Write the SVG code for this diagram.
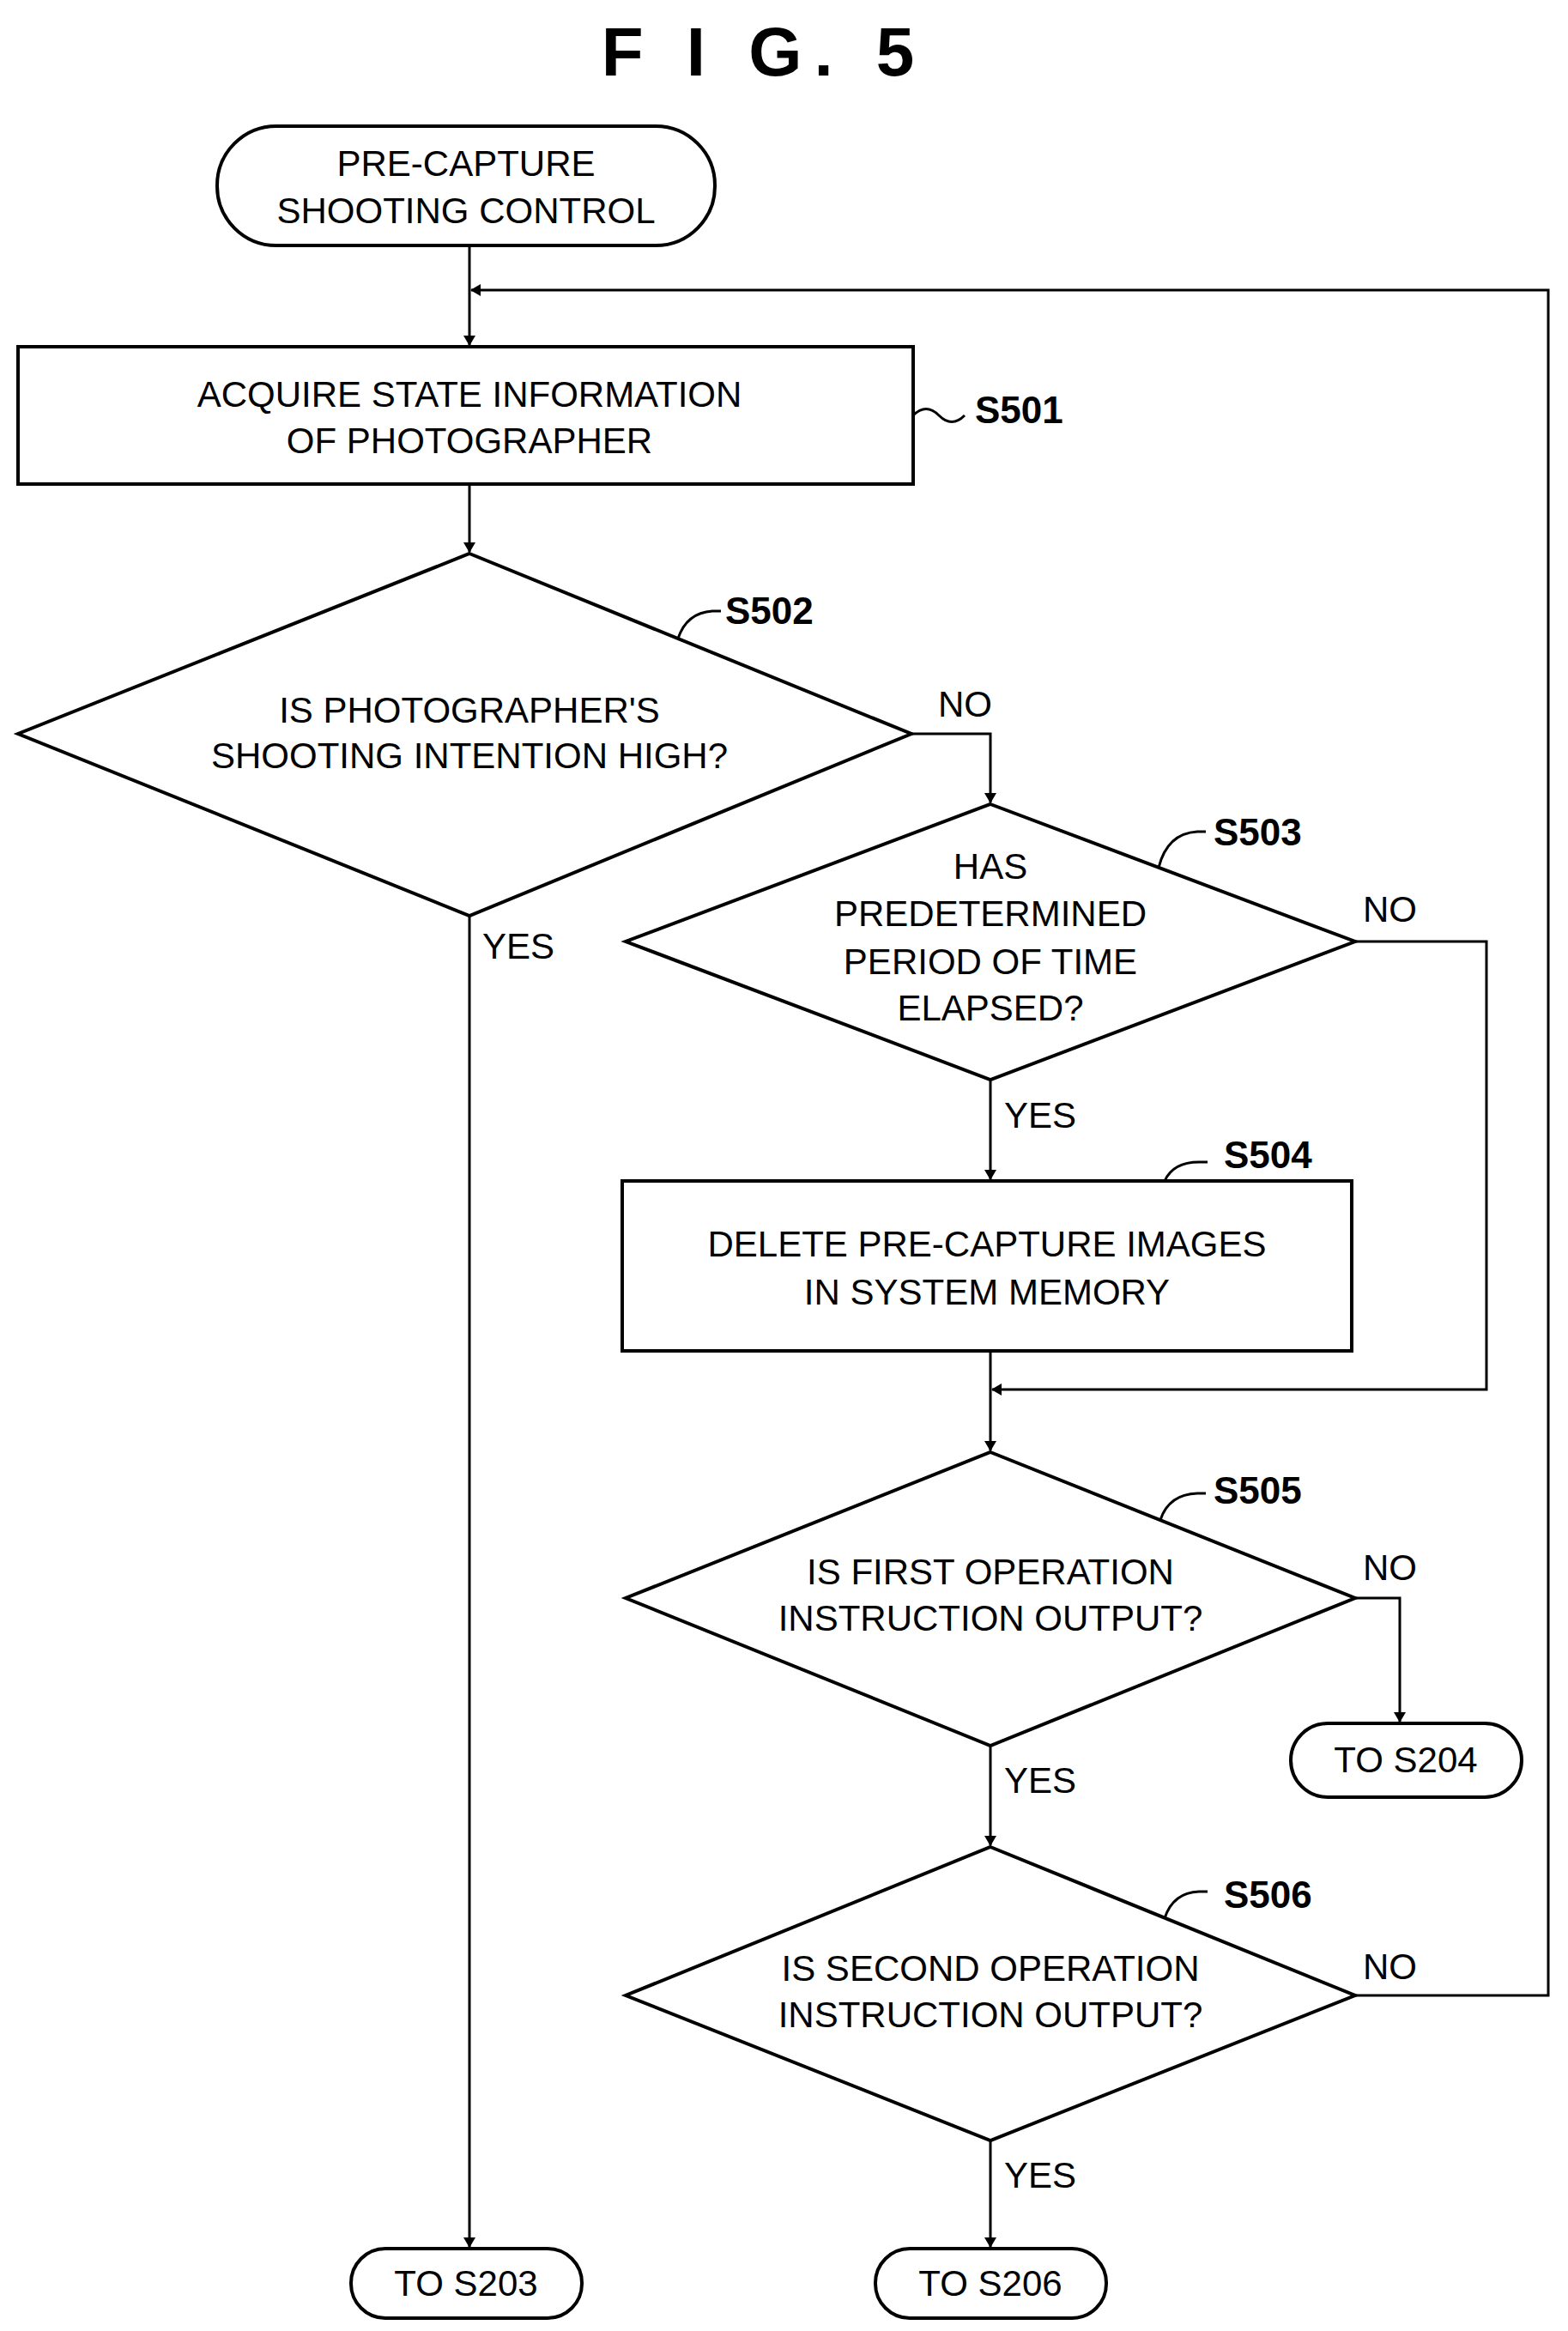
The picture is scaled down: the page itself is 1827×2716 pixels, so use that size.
<svg xmlns="http://www.w3.org/2000/svg" width="1827" height="2716" viewBox="0 0 1827 2716">
<style>
.s{fill:#fff;stroke:#000;stroke-width:4}
.c{fill:none;stroke:#000;stroke-width:3}
.t{font-family:"Liberation Sans",Arial,sans-serif;font-size:42px;text-anchor:middle;fill:#000}
.l{font-family:"Liberation Sans",Arial,sans-serif;font-size:42px;fill:#000}
.b{font-family:"Liberation Sans",Arial,sans-serif;font-size:44px;font-weight:bold;fill:#000}
</style>
<defs><marker id="a" markerWidth="12" markerHeight="14" refX="11" refY="7" orient="auto" markerUnits="userSpaceOnUse"><path d="M0,0 L12,7 L0,14 Z" fill="#000"/></marker></defs>
<rect width="1827" height="2716" fill="#fff"/>
<text x="890" y="88" class="b" style="font-size:80px;text-anchor:middle;letter-spacing:14px">F I G.  5</text>
<g id="connectors">
<path class="c" d="M547,286 V402" marker-end="url(#a)"/>
<path class="c" d="M1579,2325 H1804 V338 H549" marker-end="url(#a)"/>
<path class="c" d="M547,564 V643" marker-end="url(#a)"/>
<path class="c" d="M1062,855 H1154 V935" marker-end="url(#a)"/>
<path class="c" d="M547,1067 V2618" marker-end="url(#a)"/>
<path class="c" d="M1154,1258 V1374" marker-end="url(#a)"/>
<path class="c" d="M1579,1097 H1732 V1619 H1156" marker-end="url(#a)"/>
<path class="c" d="M1154,1574 V1690" marker-end="url(#a)"/>
<path class="c" d="M1579,1862 H1631 V2006" marker-end="url(#a)"/>
<path class="c" d="M1154,2034 V2150" marker-end="url(#a)"/>
<path class="c" d="M1154,2494 V2618" marker-end="url(#a)"/>
<path class="c" d="M1064,484 q15,-15 30,0 t30,0"/>
<path class="c" d="M790,744 q10,-30 40,-32 h10"/>
<path class="c" d="M1350,1011 q10,-40 45,-42 h10"/>
<path class="c" d="M1357,1376 q10,-22 40,-22 h10"/>
<path class="c" d="M1352,1771 q10,-30 43,-31 h10"/>
<path class="c" d="M1357,2235 q10,-30 40,-31 h10"/>
</g>
<g id="start"><rect class="s" x="253" y="147" width="580" height="139" rx="69"/><text class="t" x="543" y="205">PRE-CAPTURE</text><text class="t" x="543" y="260">SHOOTING CONTROL</text></g>
<g id="S501"><rect class="s" x="21" y="404" width="1043" height="160"/><text class="t" x="547" y="474">ACQUIRE STATE INFORMATION</text><text class="t" x="547" y="528">OF PHOTOGRAPHER</text><text class="b" x="1136" y="493">S501</text></g>
<g id="S502"><polygon class="s" points="547,645 1062,855 547,1067 21,855"/><text class="t" x="547" y="842">IS PHOTOGRAPHER'S</text><text class="t" x="547" y="895">SHOOTING INTENTION HIGH?</text><text class="b" x="845" y="727">S502</text><text class="l" x="1093" y="835">NO</text><text class="l" x="562" y="1117">YES</text></g>
<g id="S503"><polygon class="s" points="1154,937 1579,1097 1154,1258 729,1097"/><text class="t" x="1154" y="1024">HAS</text><text class="t" x="1154" y="1079">PREDETERMINED</text><text class="t" x="1154" y="1135">PERIOD OF TIME</text><text class="t" x="1154" y="1189">ELAPSED?</text><text class="b" x="1414" y="985">S503</text><text class="l" x="1588" y="1074">NO</text><text class="l" x="1170" y="1314">YES</text></g>
<g id="S504"><rect class="s" x="725" y="1376" width="850" height="198"/><text class="t" x="1150" y="1464">DELETE PRE-CAPTURE IMAGES</text><text class="t" x="1150" y="1520">IN SYSTEM MEMORY</text><text class="b" x="1426" y="1361">S504</text></g>
<g id="S505"><polygon class="s" points="1154,1692 1579,1862 1154,2034 729,1862"/><text class="t" x="1154" y="1846">IS FIRST OPERATION</text><text class="t" x="1154" y="1900">INSTRUCTION OUTPUT?</text><text class="b" x="1414" y="1752">S505</text><text class="l" x="1588" y="1841">NO</text><text class="l" x="1170" y="2089">YES</text></g>
<g id="S204"><rect class="s" x="1504" y="2008" width="269" height="86" rx="43"/><text class="t" x="1638" y="2065">TO S204</text></g>
<g id="S506"><polygon class="s" points="1154,2152 1579,2325 1154,2494 729,2325"/><text class="t" x="1154" y="2308">IS SECOND OPERATION</text><text class="t" x="1154" y="2362">INSTRUCTION OUTPUT?</text><text class="b" x="1426" y="2223">S506</text><text class="l" x="1588" y="2306">NO</text><text class="l" x="1170" y="2549">YES</text></g>
<g id="S203"><rect class="s" x="409" y="2620" width="269" height="81" rx="40"/><text class="t" x="543" y="2675">TO S203</text></g>
<g id="S206"><rect class="s" x="1020" y="2620" width="269" height="81" rx="40"/><text class="t" x="1154" y="2675">TO S206</text></g>
</svg>
